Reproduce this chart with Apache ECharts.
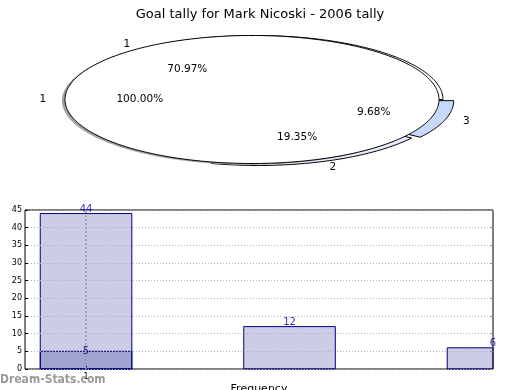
<!DOCTYPE html>
<html><head><meta charset="utf-8">
<script src="https://cdn.jsdelivr.net/npm/echarts@6/dist/echarts.min.js"></script>
<style>html,body{margin:0;padding:0;background:#fff}#c{width:520px;height:390px}</style>
</head><body><div id="c"></div>
<script>
// ---- data ----
const titleText = 'Goal tally for Mark Nicoski - 2006 tally';
const sliceLabels = ['1', '2', '3'];
const sliceValues = [22, 6, 3];          // 70.97%, 19.35%, 9.68%
const wholeLabels = ['1'];
const wholeValues = [1];                 // 100.00%
const barX = [1, 2, 3];
const barValues = [44, 12, 6];
const innerX = [1];
const innerValues = [5];
const xTickValues = [1];
const yMin = 0, yMax = 45, yStep = 5;
const xAxisName = 'Frequency';
const yAxisName = 'Stat Intervals';
const watermark = 'Dream-Stats.com';

// ---- styles / layout ----
const FONT = 'DejaVu Sans';
const slicePie = { cx: 256, cy: 99.5, rx: 187, ry: 64, explode: [0, 0.033, 0.06],
  colors: ['#ffffff', '#e6ecfc', '#c8d8fa'] };
const wholePie = { cx: 252, cy: 99.5, rx: 187, ry: 64, explode: [0], colors: ['#ffffff'] };
const shadowPie = { cx: 252 - 3, cy: 99.5 + 1.2, rx: 187, ry: 64, explode: [0], colors: ['#a0a0a0'] };
const barWidthUnits = 0.45;

function pieSeries(values, labels, cfg, mode, z) {
  const total = values.reduce((a, b) => a + b, 0);
  return {
    type: 'custom', coordinateSystem: 'none', z: z, silent: true, animation: false,
    data: values.map((v, i) => ({ value: [v], name: labels[i] })),
    renderItem(params, api) {
      const i = params.dataIndex;
      let before = 0;
      for (let k = 0; k < i; k++) before += values[k];
      const v = api.value(0);
      const a0 = before / total * 2 * Math.PI, a1 = (before + v) / total * 2 * Math.PI;
      const mid = (a0 + a1) / 2;
      const ex = cfg.explode[i] || 0;
      const cx = cfg.cx + ex * Math.cos(mid) * cfg.rx;
      const cy = cfg.cy - ex * Math.sin(mid) * cfg.ry;
      if (mode === 'text') {
        const lx = cx + 1.1 * Math.cos(mid) * cfg.rx, ly = cy - 1.1 * Math.sin(mid) * cfg.ry;
        const px = cx + 0.6 * Math.cos(mid) * cfg.rx, py = cy - 0.6 * Math.sin(mid) * cfg.ry;
        return { type: 'group', children: [
          { type: 'text', x: lx, y: ly, style: { text: labels[i], align: Math.cos(mid) > 0 ? 'left' : 'right',
            verticalAlign: 'middle', fontSize: 10.5, fontFamily: FONT, fill: '#000' } },
          { type: 'text', x: px, y: py, style: { text: (v / total * 100).toFixed(2) + '%', align: 'center',
            verticalAlign: 'middle', fontSize: 10.5, fontFamily: FONT, fill: '#000' } }
        ] };
      }
      const pts = [];
      const full = (a1 - a0) > 2 * Math.PI - 1e-9;
      if (!full) pts.push([cx, cy]);
      const n = Math.max(8, Math.ceil((a1 - a0) / (Math.PI / 180)));
      for (let k = 0; k <= n; k++) {
        const a = a0 + (a1 - a0) * k / n;
        pts.push([cx + Math.cos(a) * cfg.rx, cy - Math.sin(a) * cfg.ry]);
      }
      return { type: 'polygon', shape: { points: pts },
        style: { fill: cfg.colors[i], stroke: mode === 'shadow' ? null : '#000', lineWidth: 1 } };
    }
  };
}

function barSeries(xs, vals) {
  return {
    type: 'custom', coordinateSystem: 'cartesian2d', z: 2, silent: true,
    encode: { x: 0, y: 1 },
    data: xs.map((x, i) => [x, vals[i]]),
    renderItem(params, api) {
      const x = api.value(0), y = api.value(1);
      const base = api.coord([x, 0]);
      const top = api.coord([x, y]);
      const w = api.size([barWidthUnits, 0])[0];
      const cs = params.coordSys;
      const rect = echarts.graphic.clipRectByRect(
        { x: top[0] - w / 2, y: top[1], width: w, height: base[1] - top[1] },
        { x: cs.x, y: cs.y, width: cs.width, height: cs.height });
      if (!rect) return null;
      return { type: 'rect', shape: rect,
        style: { fill: 'rgba(0,0,128,0.2)', stroke: '#000080', lineWidth: 1 } };
    }
  };
}

const labelColor = '#000099';

const option = {
  animation: false,
  backgroundColor: '#fff',
  title: { text: titleText, left: 'center', top: 3,
    textStyle: { fontFamily: FONT, fontSize: 13, fontWeight: 'normal', color: '#000' } },
  graphic: [{ type: 'text', left: 0, top: 374, z: 100,
    style: { text: watermark, fill: '#9a9a9a', font: 'bold 12px "DejaVu Sans Condensed"' } }],
  grid: { left: 25, right: 27, top: 210, bottom: 21, show: true, borderColor: '#000', borderWidth: 1,
    backgroundColor: 'transparent', outerBoundsMode: 'none', containLabel: false },
  xAxis: { type: 'value', min: 0.7, max: 3,
    axisLine: { show: false },
    axisTick: { show: true, inside: true, length: 3, customValues: xTickValues, lineStyle: { color: '#000' } },
    axisLabel: { customValues: xTickValues, fontSize: 8, fontFamily: FONT, color: '#000', margin: 4 },
    splitLine: { show: false },
    name: xAxisName, nameLocation: 'middle', nameGap: 15,
    nameTextStyle: { fontFamily: FONT, fontSize: 11, color: '#000' } },
  yAxis: [{ type: 'value', min: yMin, max: yMax, interval: yStep, z: 5,
    axisLine: { show: false },
    axisTick: { show: true, inside: true, length: 3, lineStyle: { color: '#000' } },
    axisLabel: { fontSize: 8, fontFamily: FONT, color: '#000', margin: 3 },
    splitLine: { show: true, lineStyle: { type: [1, 2], color: '#b0b0b0', width: 1 } },
    name: yAxisName, nameLocation: 'middle', nameGap: 14, nameRotate: 90,
    nameTextStyle: { fontFamily: FONT, fontSize: 11, color: '#000' } },
  { type: 'value', min: yMin, max: yMax, interval: yStep, position: 'right', z: 5,
    axisLine: { show: false }, axisLabel: { show: false }, splitLine: { show: false },
    axisTick: { show: true, inside: true, length: 3, lineStyle: { color: '#888' } } }],
  series: [
    pieSeries(sliceValues, sliceLabels, slicePie, 'wedge', 1),
    pieSeries(wholeValues, wholeLabels, shadowPie, 'shadow', 2),
    pieSeries(wholeValues, wholeLabels, wholePie, 'wedge', 3),
    pieSeries(sliceValues, sliceLabels, slicePie, 'text', 4),
    pieSeries(wholeValues, wholeLabels, wholePie, 'text', 4),
    barSeries(barX, barValues),
    barSeries(innerX, innerValues),
    { type: 'scatter', symbolSize: 0, z: 6, silent: true, clip: false,
      data: barX.map((x, i) => [x, barValues[i]]),
      label: { show: true, position: 'top', distance: -1, color: labelColor, fontSize: 10, fontFamily: FONT,
        formatter: p => String(p.value[1]) },
      markLine: { silent: true, symbol: 'none', label: { show: false },
        lineStyle: { type: [2, 2], color: '#999', width: 1.5 }, data: [{ xAxis: xTickValues[0] }] } },
    { type: 'scatter', symbolSize: 0, z: 6, silent: true,
      data: innerX.map((x, i) => [x, innerValues[i]]),
      label: { show: true, position: 'inside', color: labelColor, fontSize: 10, fontFamily: FONT,
        formatter: p => String(p.value[1]) } }
  ]
};
const chart = echarts.init(document.getElementById('c'));
chart.setOption(option);
</script></body></html>
